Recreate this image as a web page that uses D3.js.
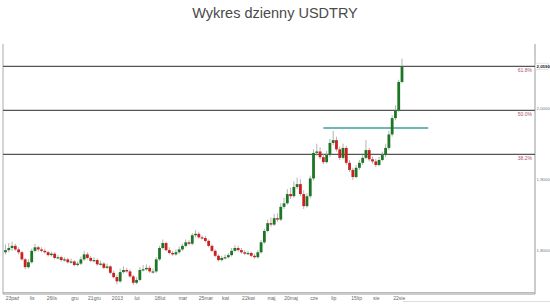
<!DOCTYPE html>
<html>
<head>
<meta charset="utf-8">
<script src="https://cdn.jsdelivr.net/npm/d3@7"></script>
<style>
  body { margin: 0; background: #fff; }
  svg { display: block; font-family: "Liberation Sans", Arial, sans-serif; }
</style>
</head>
<body>
<div id="chart"></div>
<script>
// daily closes (USDTRY)
const closes = [
  1.800, 1.803, 1.806, 1.801, 1.797, 1.787, 1.776, 1.783, 1.799, 1.804,
  1.801, 1.799, 1.797, 1.793, 1.795, 1.789, 1.790, 1.786, 1.787, 1.783,
  1.784, 1.779, 1.781, 1.787, 1.794, 1.789, 1.785, 1.786, 1.780, 1.781,
  1.775, 1.777, 1.768, 1.762, 1.756, 1.769, 1.772, 1.770, 1.763, 1.754,
  1.758, 1.772, 1.773, 1.775, 1.770, 1.770, 1.787, 1.803, 1.810, 1.800,
  1.796, 1.794, 1.797, 1.801, 1.806, 1.811, 1.809, 1.821, 1.823, 1.818,
  1.817, 1.813, 1.806, 1.799, 1.792, 1.786, 1.789, 1.790, 1.793, 1.799,
  1.803, 1.800, 1.797, 1.795, 1.796, 1.792, 1.790, 1.797, 1.811, 1.827,
  1.838, 1.836, 1.845, 1.843, 1.861, 1.866, 1.879, 1.876, 1.889, 1.893,
  1.879, 1.862, 1.876, 1.901, 1.937, 1.939, 1.931, 1.924, 1.934, 1.951,
  1.955, 1.942, 1.930, 1.944, 1.923, 1.913, 1.903, 1.916, 1.923, 1.930,
  1.941, 1.928, 1.925, 1.920, 1.927, 1.934, 1.944, 1.963, 1.986, 1.997,
  2.037, 2.059
];
const highs = [
  1.808, 1.810, 1.812, 1.809, 1.804, 1.799, 1.789, 1.787, 1.802, 1.809,
  1.806, 1.804, 1.802, 1.799, 1.798, 1.797, 1.793, 1.792, 1.790, 1.789,
  1.788, 1.786, 1.784, 1.791, 1.799, 1.797, 1.792, 1.790, 1.788, 1.785,
  1.783, 1.781, 1.779, 1.771, 1.765, 1.774, 1.777, 1.775, 1.773, 1.765,
  1.762, 1.776, 1.779, 1.780, 1.778, 1.774, 1.790, 1.806, 1.815, 1.812,
  1.804, 1.799, 1.801, 1.805, 1.809, 1.815, 1.814, 1.824, 1.828, 1.826,
  1.821, 1.820, 1.815, 1.808, 1.801, 1.794, 1.792, 1.794, 1.796, 1.803,
  1.807, 1.806, 1.803, 1.800, 1.799, 1.798, 1.795, 1.800, 1.814, 1.830,
  1.843, 1.846, 1.851, 1.852, 1.866, 1.874, 1.886, 1.888, 1.897, 1.902,
  1.900, 1.884, 1.880, 1.905, 1.942, 1.950, 1.945, 1.936, 1.940, 1.957,
  1.968, 1.960, 1.946, 1.950, 1.947, 1.927, 1.916, 1.920, 1.927, 1.934,
  1.955, 1.944, 1.932, 1.929, 1.931, 1.939, 1.950, 1.968, 1.990, 2.004,
  2.040, 2.070
];
const lows = [
  1.794, 1.797, 1.799, 1.799, 1.794, 1.785, 1.773, 1.774, 1.781, 1.797,
  1.798, 1.797, 1.795, 1.791, 1.791, 1.787, 1.787, 1.784, 1.784, 1.781,
  1.781, 1.777, 1.777, 1.779, 1.785, 1.787, 1.783, 1.783, 1.778, 1.778,
  1.773, 1.773, 1.766, 1.760, 1.752, 1.754, 1.767, 1.768, 1.761, 1.751,
  1.752, 1.756, 1.770, 1.771, 1.768, 1.767, 1.768, 1.785, 1.801, 1.798,
  1.794, 1.792, 1.792, 1.795, 1.799, 1.804, 1.807, 1.807, 1.818, 1.816,
  1.815, 1.811, 1.804, 1.797, 1.790, 1.784, 1.784, 1.787, 1.788, 1.791,
  1.797, 1.798, 1.795, 1.793, 1.793, 1.790, 1.788, 1.788, 1.795, 1.809,
  1.825, 1.833, 1.834, 1.840, 1.841, 1.858, 1.864, 1.872, 1.874, 1.886,
  1.876, 1.858, 1.860, 1.873, 1.898, 1.933, 1.928, 1.921, 1.922, 1.931,
  1.948, 1.939, 1.927, 1.928, 1.920, 1.910, 1.899, 1.901, 1.913, 1.920,
  1.928, 1.925, 1.922, 1.917, 1.918, 1.925, 1.931, 1.941, 1.960, 1.983,
  1.995, 2.035
];
const firstOpen = 1.797;

// x axis labels (candle index -> text)
const dateTicks = [2, 8, 14, 21, 27, 34, 40, 47, 54, 61, 67, 74, 81, 87, 94, 100, 107, 113, 120];
const dateLabels = ["23paź", "lis", "26lis", "gru", "21gru", "2013", "lut", "18lut", "mar", "25mar",
                    "kwi", "22kwi", "maj", "20maj", "cze", "lip", "15lip", "sie", "22sie"];

// price axis
const priceTicks = [1.8, 1.9, 2.0];

// fibonacci levels
const fibValues = [1.935, 1.997, 2.059];
const fibLabels = ["38.2%", "50.0%", "61.8%"];

// resistance line (teal)
const teal = { from: 97, to: 129, value: 1.972 };

const W = 550, H = 308;
const plotLeft = 3, plotRight = 535, plotTop = 50, plotBottom = 292;

const svg = d3.select("#chart").append("svg")
    .attr("width", W)
    .attr("height", H);

svg.append("text")
    .attr("x", 275).attr("y", 18)
    .attr("text-anchor", "middle")
    .attr("font-size", "14.5px")
    .attr("fill", "#4a4a4a")
    .text("Wykres dzienny USDTRY");

const x = d3.scaleLinear().domain([0, closes.length - 1]).range([5.5, 402]);
const y = d3.scaleLinear().domain([1.741, 2.082]).range([plotBottom, plotTop]);

const candles = closes.map((c, i) => ({
    i: i,
    o: i === 0 ? firstOpen : closes[i - 1],
    h: highs[i],
    l: lows[i],
    c: c
}));

// frame
svg.append("line").attr("x1", plotLeft).attr("x2", plotLeft).attr("y1", 44).attr("y2", plotBottom + 2)
    .attr("stroke", "#aaa").attr("stroke-width", 1);
svg.append("line").attr("x1", plotRight).attr("x2", plotRight).attr("y1", 44).attr("y2", plotBottom + 2)
    .attr("stroke", "#999").attr("stroke-width", 1);
svg.append("line").attr("x1", plotLeft).attr("x2", plotRight).attr("y1", plotBottom + 0.5).attr("y2", plotBottom + 0.5)
    .attr("stroke", "#bbb").attr("stroke-width", 1);
svg.append("line").attr("x1", plotLeft).attr("x2", plotRight).attr("y1", plotBottom + 2).attr("y2", plotBottom + 2)
    .attr("stroke", "#999").attr("stroke-width", 1);
svg.append("line").attr("x1", 403).attr("x2", W).attr("y1", 301.5).attr("y2", 301.5)
    .attr("stroke", "#ddd").attr("stroke-width", 1);

// fib lines
svg.selectAll(".fib").data(fibValues).enter().append("line")
    .attr("x1", plotLeft).attr("x2", plotRight)
    .attr("y1", d => y(d)).attr("y2", d => y(d))
    .attr("stroke", "#555").attr("stroke-width", 1.3);

svg.selectAll(".fibLabel").data(fibValues).enter().append("text")
    .attr("x", plotRight - 3).attr("y", d => y(d) + 6)
    .attr("text-anchor", "end")
    .attr("font-size", "5px")
    .attr("fill", "#b0506a")
    .text((d, i) => fibLabels[i]);

// teal line
svg.append("line")
    .attr("x1", x(teal.from)).attr("x2", x(teal.to))
    .attr("y1", y(teal.value)).attr("y2", y(teal.value))
    .attr("stroke", "#3a9fa6").attr("stroke-width", 1.5);

// candles
const bw = 2.8;
const g = svg.append("g");
g.selectAll(".wick").data(candles).enter().append("line")
    .attr("x1", d => x(d.i)).attr("x2", d => x(d.i))
    .attr("y1", d => y(d.h)).attr("y2", d => y(d.l))
    .attr("stroke", "#a0a0a0").attr("stroke-width", 0.8);

g.selectAll(".body").data(candles).enter().append("rect")
    .attr("x", d => x(d.i) - bw / 2)
    .attr("width", bw)
    .attr("y", d => y(Math.max(d.o, d.c)))
    .attr("height", d => Math.max(1.2, Math.abs(y(d.o) - y(d.c))))
    .attr("fill", d => d.c >= d.o ? "#1d7526" : "#cc1f1f");

// x axis
const xAxis = d3.axisBottom(x)
    .tickValues(dateTicks)
    .tickSize(0)
    .tickPadding(3)
    .tickFormat((d, i) => dateLabels[i]);
const xg = svg.append("g").attr("transform", `translate(0,${plotBottom + 1})`).call(xAxis);
xg.select(".domain").remove();
xg.selectAll("text").attr("font-size", "5px").attr("fill", "#666")
    .attr("font-family", "Liberation Sans, Arial, sans-serif");

// y axis on the right
const yAxis = d3.axisRight(y)
    .tickValues(priceTicks)
    .tickSize(0)
    .tickPadding(1.5)
    .tickFormat(d => d3.format(".4f")(d).replace(".", ","));
const yg = svg.append("g").attr("transform", `translate(${plotRight},0)`).call(yAxis);
yg.select(".domain").remove();
yg.selectAll("text").attr("font-size", "4.4px").attr("fill", "#777")
    .attr("font-family", "Liberation Sans, Arial, sans-serif");

// last price tag
const last = closes[closes.length - 1];
svg.append("rect")
    .attr("x", plotRight + 0.5).attr("y", y(last) - 3.2)
    .attr("width", 13).attr("height", 6.4)
    .attr("fill", "#fff").attr("stroke", "#ccc").attr("stroke-width", 0.5);
svg.append("text")
    .attr("x", plotRight + 1.5).attr("y", y(last) + 1.6)
    .attr("font-size", "4.4px").attr("font-weight", "bold").attr("fill", "#222")
    .text(d3.format(".4f")(last).replace(".", ","));
</script>
</body>
</html>
